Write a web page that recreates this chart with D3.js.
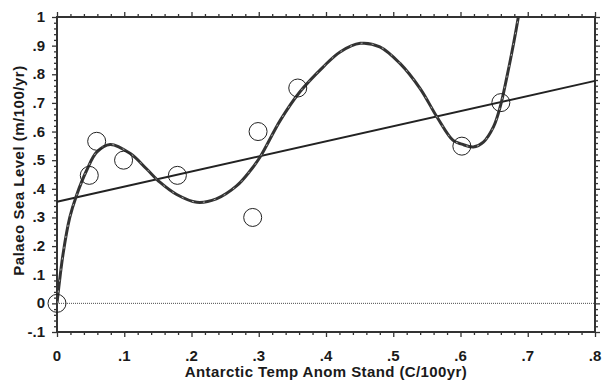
<!DOCTYPE html>
<html>
<head>
<meta charset="utf-8">
<script src="https://cdn.jsdelivr.net/npm/d3@7"></script>
<style>
  body { margin: 0; background: #fff; }
  svg text { font-family: "Liberation Sans", Arial, sans-serif; font-weight: bold; fill: #1a1a1a; }
</style>
</head>
<body>
<div class="chart"></div>
<script>
// data ------------------------------------------------------

// observed points (temperature anomaly, sea level)
var obsTemp = [0, 0.048, 0.059, 0.099, 0.179, 0.291, 0.299, 0.358, 0.602, 0.660];
var obsSea  = [0, 0.447, 0.566, 0.500, 0.447, 0.300, 0.600, 0.752, 0.549, 0.701];

// linear fit end points
var fitTemp = [0, 0.8];
var fitSea  = [0.355, 0.777];

// polynomial fit
var polyTemp = [0, 0.009, 0.019, 0.029, 0.044, 0.059, 0.079, 0.109, 0.133, 0.153, 0.178,
  0.208, 0.237, 0.267, 0.287, 0.302, 0.332, 0.361, 0.396, 0.421, 0.451, 0.480, 0.510,
  0.540, 0.565, 0.589, 0.602, 0.619, 0.634, 0.649, 0.659, 0.669, 0.679, 0.686, 0.690];
var polySea  = [0, 0.172, 0.300, 0.377, 0.464, 0.528, 0.555, 0.523, 0.470, 0.423, 0.380,
  0.353, 0.365, 0.410, 0.462, 0.511, 0.639, 0.738, 0.826, 0.878, 0.908, 0.896, 0.838,
  0.750, 0.651, 0.569, 0.556, 0.546, 0.563, 0.616, 0.686, 0.791, 0.908, 1.000, 1.060];

// tick values and labels
var xTicks = [0, 0.1, 0.2, 0.3, 0.4, 0.5, 0.6, 0.7, 0.8];
var xTickLabels = ["0", ".1", ".2", ".3", ".4", ".5", ".6", ".7", ".8"];
var yTicks = [-0.1, 0, 0.1, 0.2, 0.3, 0.4, 0.5, 0.6, 0.7, 0.8, 0.9, 1];
var yTickLabels = ["-.1", "0", ".1", ".2", ".3", ".4", ".5", ".6", ".7", ".8", ".9", "1"];

// SVG setup -------------------------------------------------
var svgWidth = 603;
var svgHeight = 383;

var margin = { top: 17, right: 8, bottom: 51, left: 57 };
var chartWidth = svgWidth - margin.left - margin.right;
var chartHeight = svgHeight - margin.top - margin.bottom;

var svg = d3.select(".chart")
  .append("svg")
  .attr("width", svgWidth)
  .attr("height", svgHeight);

var chartGroup = svg.append("g")
  .attr("transform", `translate(${margin.left}, ${margin.top})`);

var xScale = d3.scaleLinear().domain([0, 0.8]).range([0, chartWidth]);
var yScale = d3.scaleLinear().domain([-0.1, 1]).range([chartHeight, 0]);

// minor ticks every .02
var xMinor = d3.range(0, 41).map(i => i * 0.02).filter(v => Math.round(v * 100) % 10 !== 0);
var yMinor = d3.range(-5, 51).map(i => i * 0.02).filter(v => Math.round(Math.abs(v) * 100) % 10 !== 0);

// axes ------------------------------------------------------
function styleAxis(g) {
  g.select(".domain").remove();
  g.selectAll("line").attr("stroke", "#333").attr("stroke-width", 1.3);
  g.selectAll("text").remove();
}

[[d3.axisBottom, chartHeight], [d3.axisTop, 0]].forEach(function(a) {
  chartGroup.append("g").attr("transform", `translate(0, ${a[1]})`)
    .call(a[0](xScale).tickValues(xTicks).tickSize(5)).call(styleAxis);
  chartGroup.append("g").attr("transform", `translate(0, ${a[1]})`)
    .call(a[0](xScale).tickValues(xMinor).tickSize(3)).call(styleAxis);
});
[[d3.axisLeft, 0], [d3.axisRight, chartWidth]].forEach(function(a) {
  chartGroup.append("g").attr("transform", `translate(${a[1]}, 0)`)
    .call(a[0](yScale).tickValues(yTicks).tickSize(5)).call(styleAxis);
  chartGroup.append("g").attr("transform", `translate(${a[1]}, 0)`)
    .call(a[0](yScale).tickValues(yMinor).tickSize(3)).call(styleAxis);
});

// frame
chartGroup.append("rect")
  .attr("width", chartWidth)
  .attr("height", chartHeight)
  .attr("fill", "none")
  .attr("stroke", "#333")
  .attr("stroke-width", 2);

// tick labels
chartGroup.selectAll(".xlab")
  .data(xTicks)
  .enter()
  .append("text")
  .attr("x", d => xScale(d))
  .attr("y", chartHeight + 29)
  .attr("text-anchor", "middle")
  .style("font-size", "15px")
  .text((d, i) => xTickLabels[i]);

chartGroup.selectAll(".ylab")
  .data(yTicks)
  .enter()
  .append("text")
  .attr("x", -12)
  .attr("y", d => yScale(d) + 5)
  .attr("text-anchor", "end")
  .style("font-size", "15px")
  .text((d, i) => yTickLabels[i]);

// axis titles
chartGroup.append("text")
  .attr("x", chartWidth / 2)
  .attr("y", chartHeight + 45)
  .attr("text-anchor", "middle")
  .style("font-size", "15px")
  .style("letter-spacing", "0.4px")
  .text("Antarctic Temp Anom Stand (C/100yr)");

chartGroup.append("text")
  .attr("transform", "rotate(-90)")
  .attr("x", -chartHeight / 2 + 4)
  .attr("y", -33)
  .attr("text-anchor", "middle")
  .style("font-size", "15px")
  .style("letter-spacing", "0.5px")
  .text("Palaeo Sea Level (m/100/yr)");

// clip region for the fits
chartGroup.append("clipPath").attr("id", "plotClip")
  .append("rect").attr("width", chartWidth).attr("height", chartHeight);

// zero line (dotted)
chartGroup.append("line")
  .attr("x1", 0).attr("x2", chartWidth)
  .attr("y1", yScale(0)).attr("y2", yScale(0))
  .attr("stroke", "#222")
  .attr("stroke-width", 0.8)
  .attr("stroke-dasharray", "1,1");

// linear fit
chartGroup.append("line")
  .attr("x1", xScale(fitTemp[0])).attr("y1", yScale(fitSea[0]))
  .attr("x2", xScale(fitTemp[1])).attr("y2", yScale(fitSea[1]))
  .attr("stroke", "#222")
  .attr("stroke-width", 2);

// polynomial fit
var polyLine = d3.line()
  .x((d, i) => xScale(polyTemp[i]))
  .y((d, i) => yScale(polySea[i]))
  .curve(d3.curveCatmullRom);

var polyGroup = chartGroup.append("g").attr("clip-path", "url(#plotClip)");
polyGroup.append("path")
  .attr("d", polyLine(polyTemp))
  .attr("fill", "none")
  .attr("stroke", "#333")
  .attr("stroke-width", 3);
polyGroup.append("path")
  .attr("d", polyLine(polyTemp))
  .attr("fill", "none")
  .attr("stroke", "#aaa")
  .attr("stroke-width", 1)
  .attr("stroke-dasharray", "2,9");

// observed points
chartGroup.selectAll("circle")
  .data(obsTemp)
  .enter()
  .append("circle")
  .attr("cx", d => xScale(d))
  .attr("cy", (d, i) => yScale(obsSea[i]))
  .attr("r", 9)
  .attr("fill", "none")
  .attr("stroke", "#222")
  .attr("stroke-width", 1);
</script>
</body>
</html>
